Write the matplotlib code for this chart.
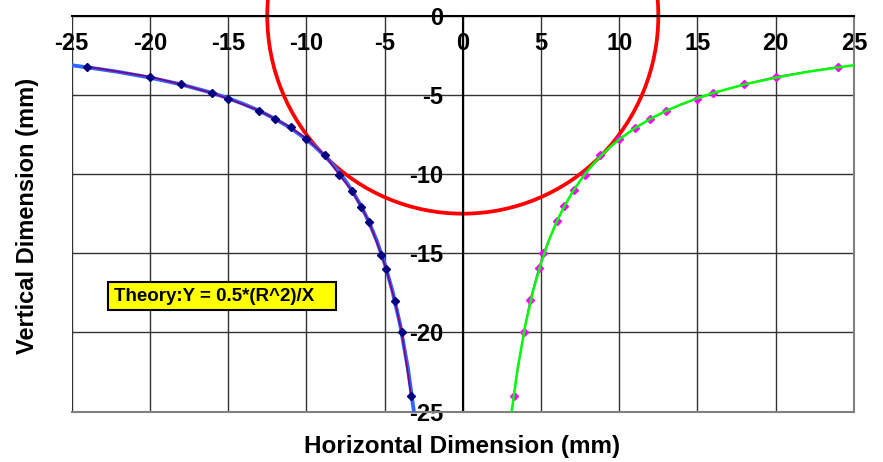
import numpy
from matplotlib import pyplot
from matplotlib.patches import Circle

pyplot.rcParams['font.family'] = ['Liberation Sans', 'DejaVu Sans']

R = 12.5  # radius of the red circle (mm)

# theory curve Y = 0.5*(R^2)/X (x magnitudes)
theory_x = [25, 24, 22, 20, 18, 16, 15, 14, 13, 12, 11, 10, 9.5, 9, 8.5, 8, 7.5,
            7, 6.5, 6, 5.5, 5, 4.5, 4, 3.5, 3.125]
theory_y = [-3.13, -3.26, -3.55, -3.91, -4.34, -4.88, -5.21, -5.58, -6.01, -6.51, -7.10,
            -7.81, -8.22, -8.68, -9.19, -9.77, -10.42, -11.16, -12.02, -13.02, -14.20,
            -15.63, -17.36, -19.53, -22.32, -25.0]

# measured points, left side
left_x = [-24, -20, -18, -16, -15, -13, -12, -11, -10, -8.8, -7.9, -7.1, -6.5, -6.0,
          -5.2, -4.9, -4.35, -3.9, -3.3]
left_y = [-3.22, -3.85, -4.33, -4.9, -5.24, -6.0, -6.52, -7.05, -7.76, -8.82, -10.05,
          -11.04, -12.06, -13.0, -15.1, -16.0, -18.0, -20.0, -24.0]

# measured points, right side
right_x = [24, 20, 18, 16, 15, 13, 12, 11, 10, 8.8, 7.8, 7.1, 6.5, 6.0, 5.15, 4.85,
           4.3, 3.9, 3.25]
right_y = [-3.22, -3.85, -4.33, -4.9, -5.24, -6.0, -6.52, -7.1, -7.8, -8.8, -10.05,
           -11.0, -12.0, -12.95, -15.0, -15.95, -17.95, -20.0, -24.0]

xticks = [-25, -20, -15, -10, -5, 0, 5, 10, 15, 20, 25]
yticks = [0, -5, -10, -15, -20, -25]

fig = pyplot.figure(figsize=(8.83, 4.62), dpi=100)
ax = fig.add_axes([0.0812, 0.109, 0.8858, 0.857])

ax.set_xlim(-25, 25)
ax.set_ylim(-25, 0)
ax.set_xticks(xticks)
ax.set_yticks(yticks)
ax.grid(True, color='#333333', lw=1.0, zorder=0)
ax.set_axisbelow(True)

# left side: blue theory, purple line with navy diamonds
ax.plot([-v for v in theory_x], theory_y, color='#3366ff', lw=2.8, zorder=3,
        solid_capstyle='butt')
ax.plot(left_x, left_y, color='#800080', lw=1.2, marker='D', markersize=4.3,
        markerfacecolor='#000080', markeredgecolor='#000080', zorder=4)

# right side: magenta diamonds, green theory on top
ax.plot(right_x, right_y, color='#ff00ff', lw=1.0, marker='D', markersize=4.3,
        markerfacecolor='#ff00ff', markeredgecolor='#ff00ff', zorder=3)
ax.plot(theory_x, theory_y, color='#00ff00', lw=1.8, zorder=4)

circ = Circle((0, 0), R, fill=False, edgecolor='#ff0000', lw=2.7, clip_on=False, zorder=2)
ax.add_patch(circ)

for side in ['right', 'bottom']:
    ax.spines[side].set_color('#808080')
    ax.spines[side].set_linewidth(1.5)
ax.spines['top'].set_color('black')
ax.spines['top'].set_linewidth(1.5)
ax.spines['left'].set_position(('data', 0))
ax.spines['left'].set_color('black')
ax.spines['left'].set_linewidth(1.5)

ax.xaxis.tick_top()
ax.tick_params(axis='x', length=0, pad=-28, labelsize=17)
ax.tick_params(axis='y', length=0, pad=14, labelsize=17)
ax.set_yticklabels([str(v) for v in yticks], fontweight='bold')
ax.set_xticklabels([str(v) for v in xticks], fontweight='bold')

fig.text(0.5236, 1 - 446 / 462, 'Horizontal Dimension (mm)', ha='center', va='center',
         fontsize=17.5, fontweight='bold')
fig.text(28 / 883, 1 - 216 / 462, 'Vertical Dimension (mm)', ha='center', va='center',
         rotation=90, fontsize=17, fontweight='bold')

ax.text(-22.3, -17.7, 'Theory:Y = 0.5*(R^2)/X   ', fontsize=13.5, fontweight='bold',
        va='center', ha='left', zorder=6,
        bbox=dict(boxstyle='square,pad=0.3', facecolor='#ffff00', edgecolor='black', lw=1.5))

fig.savefig('out.png', dpi=100)
